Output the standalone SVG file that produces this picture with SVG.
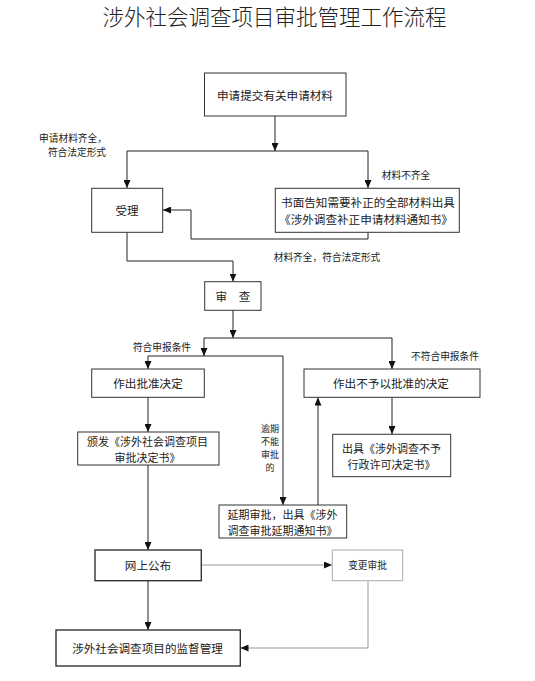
<svg xmlns="http://www.w3.org/2000/svg" width="535" height="681" viewBox="0 0 535 681">
<style>
text{font-family:"Noto Sans CJK SC","Noto Sans CJK TC",sans-serif;fill:#222;text-anchor:middle;dominant-baseline:central}
.t{font-size:21.5px;font-weight:300}
.n{font-size:11.6px}
.m{font-size:11px}
.s{font-size:9.7px}
.v{font-size:9px}
.box{fill:#fff;stroke:#333;stroke-width:1}
.boxb{fill:#fff;stroke:#333;stroke-width:1.4}
.boxg{fill:#fff;stroke:#aaa;stroke-width:1}
.c{fill:none;stroke:#222;stroke-width:1}
.cg{fill:none;stroke:#999;stroke-width:1}
</style>
<defs>
<marker id="a" markerWidth="8" markerHeight="7" refX="8" refY="3.5" orient="auto" markerUnits="userSpaceOnUse"><path d="M0,0 L8,3.5 L0,7 z" fill="#111"/></marker>
</defs>
<rect width="535" height="681" fill="#fff"/>
<text class="t" x="274.5" y="15">涉外社会调查项目审批管理工作流程</text>

<g id="connectors">
<path class="c" d="M275,116 V151" marker-end="url(#a)"/>
<path class="c" d="M127,151 H368"/>
<path class="c" d="M127,151 V188" marker-end="url(#a)"/>
<path class="c" d="M368,151 V188" marker-end="url(#a)"/>
<path class="c" d="M368,232 V239 H191 V210 H163" marker-end="url(#a)"/>
<path class="c" d="M127,232 V261 H233 V281.5" marker-end="url(#a)"/>
<path class="c" d="M233,310 V338" marker-end="url(#a)"/>
<path class="c" d="M204,338 H392"/>
<path class="c" d="M392,338 V369" marker-end="url(#a)"/>
<path class="c" d="M204,338 V356" marker-end="url(#a)"/>
<path class="c" d="M148,356 H283"/>
<path class="c" d="M148,356 V369" marker-end="url(#a)"/>
<path class="c" d="M283,356 V505" marker-end="url(#a)"/>
<path class="c" d="M318,505 V397.5" marker-end="url(#a)"/>
<path class="c" d="M148,397 V432" marker-end="url(#a)"/>
<path class="c" d="M392,397 V434" marker-end="url(#a)"/>
<path class="c" d="M148,465 V550" marker-end="url(#a)"/>
<path class="cg" d="M201,565 H332" marker-end="url(#a)"/>
<path class="cg" d="M368,581 V648 H240.5" marker-end="url(#a)"/>
<path class="c" d="M148,581 V630" marker-end="url(#a)"/>
</g>

<g id="labels">
<text class="s" x="73" y="138">申请材料齐全，</text>
<text class="s" x="77" y="152">符合法定形式</text>
<text class="s" x="406" y="175">材料不齐全</text>
<text class="s" x="327" y="257">材料齐全，符合法定形式</text>
<text class="s" x="162" y="347">符合申报条件</text>
<text class="s" x="445" y="356">不符合申报条件</text>
<text class="v" x="270" y="428">逾期<tspan x="270" dy="13">不能</tspan><tspan x="270" dy="13">审批</tspan><tspan x="270" dy="13">的</tspan></text>
</g>

<g id="n1"><rect class="box" x="204.5" y="73" width="141.5" height="43"/><text class="n" x="275" y="95">申请提交有关申请材料</text></g>
<g id="n2"><rect class="box" x="91.7" y="188.3" width="71" height="44"/><text class="n" x="127" y="210">受理</text></g>
<g id="n3"><rect class="box" x="275.3" y="188.3" width="184" height="44"/><text class="n" x="368" y="202">书面告知需要补正的全部材料出具<tspan x="366" dy="17">《涉外调查补正申请材料通知书》</tspan></text></g>
<g id="n4"><rect class="box" x="204.7" y="281.7" width="56.3" height="28.6"/><text class="n" x="233" y="296">审　查</text></g>
<g id="n5"><rect class="box" x="91.7" y="369" width="112.6" height="28.3"/><text class="n" x="148" y="383">作出批准决定</text></g>
<g id="n6"><rect class="box" x="304" y="369" width="176" height="28.3"/><text class="n" x="391" y="383">作出不予以批准的决定</text></g>
<g id="n7"><rect class="box" x="77.7" y="432" width="141.3" height="33"/><text class="m" x="147.5" y="440.5">颁发《涉外社会调查项目<tspan x="147.5" dy="16">审批决定书》</tspan></text></g>
<g id="n8"><rect class="box" x="332.7" y="434.3" width="118" height="42.4"/><text class="m" x="391.5" y="447.5">出具《涉外调查不予<tspan x="391.5" dy="16">行政许可决定书》</tspan></text></g>
<g id="n9"><rect class="box" x="219" y="505" width="127.7" height="33"/><text class="m" x="282.5" y="513.5">延期审批，出具《涉外<tspan x="282.5" dy="16">调查审批延期通知书》</tspan></text></g>
<g id="n10"><rect class="boxb" x="95" y="550" width="106.3" height="30.7"/><text class="n" x="148" y="565">网上公布</text></g>
<g id="n11"><rect class="boxg" x="332.3" y="550" width="70.4" height="30.7"/><text class="s" x="367.5" y="565">变更审批</text></g>
<g id="n12"><rect class="boxb" x="56" y="630" width="184.3" height="36"/><text class="n" x="147.5" y="648">涉外社会调查项目的监督管理</text></g>
</svg>
